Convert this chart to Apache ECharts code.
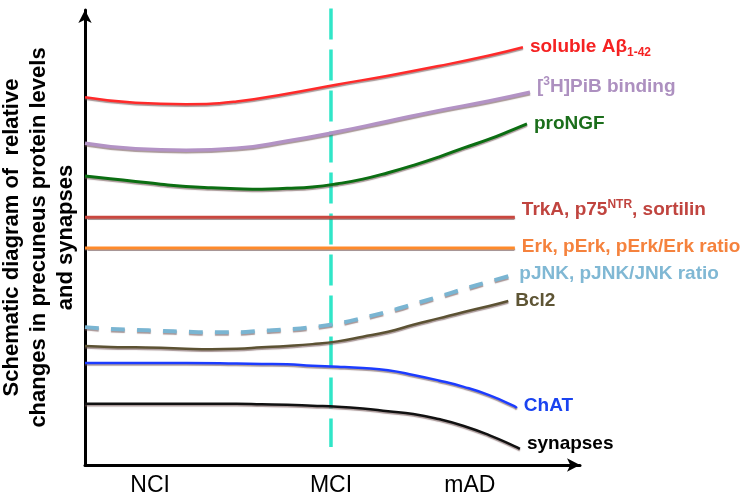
<!DOCTYPE html>
<html>
<head>
<meta charset="utf-8">
<script src="https://cdn.jsdelivr.net/npm/echarts@6/dist/echarts.min.js"></script>
<style>
html,body{margin:0;padding:0;background:#fff;}
#chart{width:750px;height:499px;}
</style>
</head>
<body>
<div id="chart"></div>
<script>
// Stage labels on the x axis
var stageNames = ['NCI', 'MCI', 'mAD'];
var stagePositions = [12.9, 48.7, 76.2];
// MCI divider (dashed vertical line): [x, level]
var mciDivider = [[48.7, 99.3], [48.7, 3.9]];

// Series values: [x, relative level]
var solubleAbeta = [[0,80.0],[10,78.8],[20,78.5],[30,79.1],[40,80.8],[50,82.8],[60,84.7],[70,86.8],[80,89.1],[86.7,90.9]];
var pibBinding   = [[0,70.0],[10,68.8],[20,68.5],[30,68.9],[40,70.5],[50,72.5],[60,74.8],[70,77.1],[80,79.2],[88.1,81.1]];
var proNGF       = [[0,62.9],[5,62.3],[10,61.7],[15,61.1],[20,60.6],[25,60.3],[30,60.1],[35,60.0],[40,60.2],[45,60.5],[50,61.2],[55,62.2],[60,63.6],[65,65.2],[70,67.0],[75,69.0],[80,70.9],[85,73.1],[87.5,74.2]];
var trkA         = [[0,53.9],[85.1,53.9]];
var erk          = [[0,47.2],[85.1,47.2]];
var pJNK         = [[0,30.0],[5,29.6],[10,29.4],[15,29.2],[20,29.0],[25,28.9],[30,28.9],[35,29.2],[40,29.5],[45,30.0],[50,30.8],[55,32.0],[60,33.4],[65,35.0],[70,36.6],[75,38.3],[80,39.9],[84.6,41.3]];
var bcl2         = [[0,25.9],[5,25.7],[10,25.6],[15,25.5],[20,25.3],[25,25.2],[30,25.3],[35,25.6],[40,25.9],[45,26.3],[50,26.9],[55,27.9],[60,29.0],[65,30.5],[70,31.9],[75,33.3],[80,34.6],[83.8,35.7]];
var chat         = [[0,22.2],[10,22.2],[20,22.2],[30,22.1],[35,22.0],[40,21.9],[45,21.6],[50,21.4],[55,21.1],[60,20.6],[65,19.6],[70,18.4],[75,17.0],[80,15.2],[85,12.8],[85.5,12.4]];
var synapses     = [[0,13.3],[10,13.3],[20,13.3],[30,13.3],[35,13.2],[40,13.1],[45,12.9],[50,12.7],[55,12.3],[60,11.7],[65,11.1],[70,10.0],[75,8.5],[80,6.5],[85,4.1],[86.1,3.5]];

var FONT = '"Liberation Sans", Arial, sans-serif';

function mkSeries(name, data, color, width, labelText, labelColor, offsetY) {
  return {
    name: name,
    type: 'line',
    data: data,
    smooth: 0.5,
    showSymbol: false,
    symbol: 'none',
    silent: true,
    clip: false,
    z: 3,
    lineStyle: {
      color: color,
      width: width,
      shadowColor: 'rgba(110,80,80,0.6)',
      shadowBlur: 1,
      shadowOffsetY: 1.5
    },
    endLabel: {
      show: true,
      formatter: function () { return labelText; },
      color: labelColor,
      fontSize: 19,
      fontWeight: 'bold',
      fontFamily: FONT,
      distance: 7,
      offset: [0, offsetY],
      rich: {
        sub: { fontSize: 12, fontWeight: 'bold', fontFamily: FONT, color: labelColor, padding: [10, 0, 0, 0] },
        sup: { fontSize: 12, fontWeight: 'bold', fontFamily: FONT, color: labelColor, padding: [0, 0, 10, 0] }
      }
    }
  };
}

var series = [
  {
    name: 'MCI',
    type: 'line',
    data: mciDivider,
    showSymbol: false,
    symbol: 'none',
    silent: true,
    clip: false,
    z: 2,
    lineStyle: { color: '#30e6c8', width: 3.5, type: [31, 10] }
  },
  mkSeries('soluble Aβ1-42', solubleAbeta, '#ff2a2a', 2.5, 'soluble Aβ{sub|1-42}', '#f52222', 0),
  mkSeries('[3H]PiB binding', pibBinding, '#b393c5', 3.5, '[{sup|3}H]PiB binding', '#ad90c0', -6),
  mkSeries('proNGF', proNGF, '#0b6e12', 3, 'proNGF', '#1b6e1b', 0),
  mkSeries('TrkA', trkA, '#c9473f', 3, 'TrkA, p75{sup|NTR}, sortilin', '#c0443f', -8),
  mkSeries('Erk', erk, '#ff8a2a', 3, 'Erk, pErk, pErk/Erk ratio', '#f5823d', -1),
  mkSeries('pJNK', pJNK, '#7ab5d2', 4, 'pJNK, pJNK/JNK ratio', '#80b8d4', -1),
  mkSeries('Bcl2', bcl2, '#5c5233', 2.5, 'Bcl2', '#5e5535', 0),
  mkSeries('ChAT', chat, '#1c3cff', 2.5, 'ChAT', '#1a43f0', -2),
  mkSeries('synapses', synapses, '#111111', 2.5, 'synapses', '#000000', -5)
];
series[6].lineStyle.type = [14, 12];

var chart = echarts.init(document.getElementById('chart'), null, { renderer: 'canvas' });
chart.setOption({
  animation: false,
  backgroundColor: '#ffffff',
  grid: { left: 85, right: 170, top: 10, bottom: 34, containLabel: false, outerBoundsMode: 'none' },
  xAxis: {
    type: 'value',
    min: 0,
    max: 98,
    axisLine: { show: true, onZero: false, symbol: ['none', 'arrow'], symbolSize: [10, 13], lineStyle: { color: '#000', width: 3 } },
    axisTick: { show: false },
    splitLine: { show: false },
    axisLabel: {
      show: true,
      customValues: stagePositions,
      formatter: function (v) {
        for (var i = 0; i < stagePositions.length; i++) {
          if (Math.abs(stagePositions[i] - v) < 0.01) return stageNames[i];
        }
        return '';
      },
      color: '#000',
      fontSize: 23,
      fontFamily: FONT,
      margin: 9
    }
  },
  yAxis: {
    type: 'value',
    min: 0,
    max: 99,
    name: 'Schematic diagram of  relative\nchanges in precuneus protein levels\nand synapses',
    nameLocation: 'middle',
    nameRotate: 90,
    nameGap: 46,
    nameTextStyle: { color: '#000', fontSize: 22, fontWeight: 'bold', fontFamily: FONT, lineHeight: 27, align: 'center', verticalAlign: 'middle' },
    axisLine: { show: true, onZero: false, symbol: ['none', 'arrow'], symbolSize: [10, 13], lineStyle: { color: '#000', width: 3 } },
    axisTick: { show: false },
    axisLabel: { show: false },
    splitLine: { show: false }
  },
  series: series
});
</script>
</body>
</html>
